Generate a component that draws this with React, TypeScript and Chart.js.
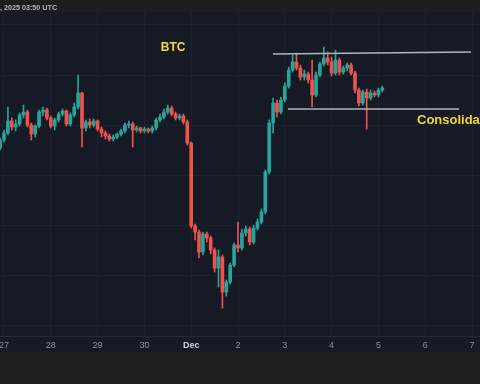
import { useEffect, useRef } from "react";
import { Chart, registerables } from "chart.js";

Chart.register(...registerables);

// ---- data ----
const DAY_LABELS = ["27", "28", "29", "30", "Dec", "2", "3", "4", "5", "6", "7"];
const START_HOUR = -2; // hours from Nov 27 00:00
const STEP_HOURS = 2;

const OPEN = [
  90080, 90400, 90680, 91160, 90920, 91040, 91400, 91520, 91000, 90640,
  90960, 91520, 91600, 91280, 90960, 91200, 91440, 91560, 91040, 91400,
  91720, 92280, 90880, 91120, 91000, 91160, 90840, 90680, 90560, 90440,
  90520, 90640, 90760, 91000, 91040, 90800, 90880, 90760, 90840, 90760,
  90880, 91200, 91320, 91520, 91680, 91440, 91280, 91360, 91120, 90280,
  86960, 86720, 85920, 86640, 86480, 86000, 85280, 85720, 84320, 84720,
  85400, 86200, 86080, 86680, 86840, 86320, 86880, 87120, 87520, 89120,
  91080, 91880, 91520, 92000, 92560, 93200, 93520, 93280, 92920, 93040,
  92800, 92200, 93000, 93440, 93680, 93520, 93080, 93600, 93120, 93280,
  93400, 93080, 92400, 91880, 92320, 92080, 92280, 92200, 92400,
];
const HIGH = [
  90480, 90800, 91720, 91280, 91200, 91480, 91800, 91600, 91080, 91000,
  91600, 91720, 91680, 91360, 91280, 91520, 91640, 91600, 91480, 91880,
  93000, 92320, 91200, 91240, 91240, 91200, 90920, 90760, 90640, 90600,
  90680, 90840, 91080, 91160, 91120, 90960, 90920, 90920, 90880, 90960,
  91280, 91440, 91640, 91800, 91760, 91520, 91440, 91440, 91200, 90320,
  87040, 86800, 86720, 86720, 86560, 86080, 86000, 85800, 84800, 85480,
  86280, 87120, 86840, 86960, 86920, 87000, 87240, 87640, 89200, 91200,
  92080, 92000, 92120, 92680, 93320, 93800, 93880, 93400, 93200, 93120,
  93600, 93120, 93520, 94120, 93920, 93720, 94000, 93680, 93360, 93480,
  93480, 93160, 92480, 92400, 92440, 92400, 92360, 92480, 92560,
];
const LOW = [
  90000, 90320, 90600, 90800, 90760, 90960, 91280, 90920, 90400, 90520,
  90880, 91360, 91200, 90880, 90800, 91120, 91360, 90960, 90960, 91320,
  91640, 90120, 90760, 90880, 90920, 90760, 90520, 90440, 90360, 90360,
  90440, 90560, 90680, 90880, 90120, 90720, 90680, 90680, 90680, 90680,
  90800, 91120, 91240, 91440, 91360, 91200, 91200, 91040, 90200, 86880,
  86400, 85680, 85800, 86320, 85840, 85120, 84520, 83680, 84160, 84640,
  85320, 85920, 86000, 86560, 86200, 86240, 86800, 87040, 87440, 89040,
  90680, 91320, 91440, 91920, 92480, 93120, 93200, 92800, 92800, 92680,
  91720, 92120, 92920, 93360, 93400, 92960, 93000, 93000, 93040, 93160,
  93000, 92280, 91760, 91800, 90840, 92000, 92120, 92120, 92320,
];
const CLOSE = [
  90400, 90680, 91160, 90920, 91040, 91400, 91520, 91000, 90640, 90960,
  91520, 91600, 91280, 90960, 91200, 91440, 91560, 91040, 91400, 91720,
  92280, 90880, 91120, 91000, 91160, 90840, 90680, 90560, 90440, 90520,
  90640, 90760, 91000, 91040, 90800, 90880, 90760, 90840, 90760, 90880,
  91200, 91320, 91520, 91680, 91440, 91280, 91360, 91120, 90280, 86960,
  86720, 85920, 86640, 86480, 86000, 85280, 85720, 84320, 84720, 85400,
  86200, 86080, 86680, 86840, 86320, 86880, 87120, 87520, 89120, 91080,
  91880, 91520, 92000, 92560, 93200, 93520, 93280, 92920, 93040, 92800,
  92200, 93000, 93440, 93680, 93520, 93080, 93600, 93120, 93280, 93400,
  93080, 92400, 91880, 92320, 92080, 92280, 92200, 92400, 92480,
];

// Range lines (time in hours, price)
const TOP_LINE_T = [137.9, 239.5];
const TOP_LINE_P = [93840, 93920];
const BOTTOM_LINE_T = [145.6, 233.3];
const BOTTOM_LINE_P = [91640, 91640];

// Annotation labels
const BTC_LABEL = { text: "BTC", t: 86.7, p: 94080 };
const CONS_LABEL = { text: "Consolidation", t: 211.8, p: 91200 };

const Y_GRID = [83000, 85000, 87000, 89000, 91000, 93000, 95000];
const X_MIN = -2.05;
const X_MAX = 244.1;
const Y_MIN = 82560;
const Y_MAX = 95520;

const UP = "#26a69a";
const DOWN = "#ef5350";
const GRID = "#1d212d";

export default function App() {
  const ref = useRef<HTMLCanvasElement>(null);

  useEffect(() => {
    if (!ref.current) return;
    const times = OPEN.map((_, i) => START_HOUR + STEP_HOURS * i);
    const colors = OPEN.map((o, i) => (CLOSE[i] >= o ? UP : DOWN));
    const wicks = times.map((t, i) => ({ x: t, y: [LOW[i], HIGH[i]] }));
    const bodies = times.map((t, i) => ({
      x: t,
      y: [Math.min(OPEN[i], CLOSE[i]), Math.max(OPEN[i], CLOSE[i])],
    }));

    const bgPlugin = {
      id: "bg",
      beforeDraw(chart: any) {
        const ctx = chart.ctx;
        ctx.save();
        ctx.fillStyle = "#1f1f1f";
        ctx.fillRect(0, 0, 480, 384);
        ctx.fillStyle = "#1d1e22";
        ctx.fillRect(0, 0, 480, 12);
        ctx.fillStyle = "#161a25";
        ctx.fillRect(0, 12, 480, 340);
        ctx.font = '600 7.2px "Liberation Sans", Arial, sans-serif';
        ctx.fillStyle = "#b4b7bf";
        ctx.textBaseline = "alphabetic";
        ctx.textAlign = "left";
        ctx.fillText(", 2025 03:50 UTC", 0, 10);
        ctx.restore();
      },
      afterDatasetsDraw(chart: any) {
        const ctx = chart.ctx;
        const xs = chart.scales.x;
        const ys = chart.scales.y;
        ctx.save();
        ctx.fillStyle = "#f2d63a";
        ctx.textBaseline = "middle";
        ctx.font = 'bold 12px "Liberation Sans", Arial, sans-serif';
        ctx.textAlign = "center";
        ctx.fillText(BTC_LABEL.text, xs.getPixelForValue(BTC_LABEL.t), ys.getPixelForValue(BTC_LABEL.p));
        ctx.font = 'bold 13px "Liberation Sans", Arial, sans-serif';
        ctx.textAlign = "left";
        ctx.fillText(CONS_LABEL.text, xs.getPixelForValue(CONS_LABEL.t), ys.getPixelForValue(CONS_LABEL.p));
        ctx.restore();
      },
    };

    const chart = new Chart(ref.current, {
      type: "bar",
      data: {
        datasets: [
          {
            type: "line",
            data: TOP_LINE_T.map((t, i) => ({ x: t, y: TOP_LINE_P[i] })),
            borderColor: "#b2b5be",
            borderWidth: 1.5,
            pointRadius: 0,
            order: 0,
          } as any,
          {
            type: "line",
            data: BOTTOM_LINE_T.map((t, i) => ({ x: t, y: BOTTOM_LINE_P[i] })),
            borderColor: "#b2b5be",
            borderWidth: 1.5,
            pointRadius: 0,
            order: 0,
          } as any,
          {
            type: "bar",
            data: bodies as any,
            backgroundColor: colors,
            barThickness: 3,
            grouped: false,
            borderWidth: 0,
            order: 1,
          } as any,
          {
            type: "bar",
            data: wicks as any,
            backgroundColor: colors,
            barThickness: 1,
            grouped: false,
            borderWidth: 0,
            order: 2,
          } as any,
        ],
      },
      options: {
        responsive: false,
        devicePixelRatio: 1,
        animation: false,
        layout: { padding: { top: 12, bottom: 32, left: 0, right: 0 } },
        plugins: { legend: { display: false }, tooltip: { enabled: false } },
        scales: {
          x: {
            type: "linear",
            min: X_MIN,
            max: X_MAX,
            offset: false,
            grid: { color: GRID, drawTicks: false, offset: false },
            border: { display: true, color: "#262a36" },
            ticks: {
              autoSkip: false,
              maxRotation: 0,
              padding: 4,
              color: (c: any) => (c.tick && c.tick.label === "Dec" ? "#d1d4dc" : "#8a8d96"),
              font: (c: any) => ({
                family: '"Liberation Sans", Arial, sans-serif',
                size: 9,
                weight: c.tick && c.tick.label === "Dec" ? "bold" : "normal",
              }),
              callback: (v: any) => DAY_LABELS[Math.round(Number(v) / 24)] ?? "",
            },
            afterBuildTicks: (s: any) => {
              s.ticks = DAY_LABELS.map((_, i) => ({ value: i * 24 }));
            },
            afterFit: (s: any) => {
              s.height = 16;
              s.paddingLeft = 0;
              s.paddingRight = 0;
            },
          },
          y: {
            type: "linear",
            position: "right",
            min: Y_MIN,
            max: Y_MAX,
            grid: { color: GRID, drawTicks: false },
            border: { display: false },
            ticks: { display: false },
            afterBuildTicks: (s: any) => {
              s.ticks = Y_GRID.map((v) => ({ value: v }));
            },
            afterFit: (s: any) => {
              s.width = 0;
              s.paddingTop = 0;
              s.paddingBottom = 0;
            },
          },
        },
      } as any,
      plugins: [bgPlugin],
    });
    return () => chart.destroy();
  }, []);

  return (
    <div style={{ position: "absolute", left: 0, top: 0, width: 480, height: 384 }}>
      <canvas ref={ref} width={480} height={384} style={{ display: "block" }} />
    </div>
  );
}
